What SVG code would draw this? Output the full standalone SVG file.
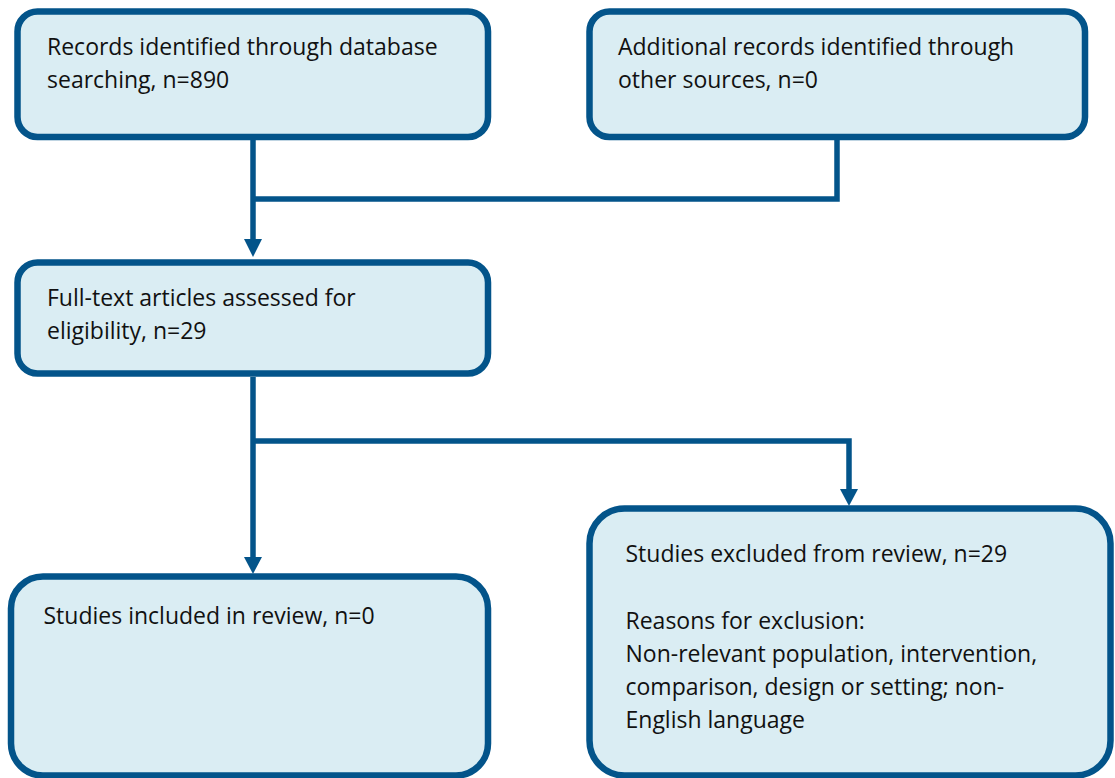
<svg xmlns="http://www.w3.org/2000/svg" width="1115" height="778" viewBox="0 0 1115 778">
<defs>
<style>
.box{fill:#DAEDF3;stroke:#03548A;stroke-width:6.5}
.con{fill:none;stroke:#03548A;stroke-width:5.5}
.head{fill:#03548A;stroke:none}
text{font-family:"Open Sans","Noto Sans",sans-serif;font-size:23px;fill:#111}
</style>
</defs>
<rect width="1115" height="778" fill="#ffffff"/>
<g id="connectors">
<path class="con" d="M253,140 V240"/>
<path class="con" d="M837,140 V199 H253"/>
<polygon class="head" points="244,239 262,239 253,257"/>
<path class="con" d="M253,377 V559"/>
<path class="con" d="M253,441 H849 V490"/>
<polygon class="head" points="244,557 262,557 253,574"/>
<polygon class="head" points="840,489 858,489 849,506"/>
</g>
<g id="records-db">
<rect class="box" x="17.5" y="11.5" width="470.5" height="125.5" rx="20"/>
<text x="47" y="55">Records identified through database</text>
<text x="47" y="87.5">searching, n=890</text>
</g>
<g id="records-other">
<rect class="box" x="589.5" y="11.5" width="495.5" height="125.5" rx="20"/>
<text x="618" y="55">Additional records identified through</text>
<text x="618" y="87.5">other sources, n=0</text>
</g>
<g id="fulltext">
<rect class="box" x="17.5" y="262.5" width="470.5" height="111" rx="20"/>
<text x="47" y="306">Full-text articles assessed for</text>
<text x="47" y="338.5">eligibility, n=29</text>
</g>
<g id="included">
<rect class="box" x="11" y="576.5" width="477" height="199" rx="32"/>
<text x="43.5" y="624">Studies included in review, n=0</text>
</g>
<g id="excluded">
<rect class="box" x="589.5" y="508.5" width="521" height="267" rx="35"/>
<text x="625.5" y="562">Studies excluded from review, n=29</text>
<text x="625.5" y="628.5">Reasons for exclusion:</text>
<text x="625.5" y="661.5">Non-relevant population, intervention,</text>
<text x="625.5" y="694.5">comparison, design or setting; non-</text>
<text x="625.5" y="727.5">English language</text>
</g>
</svg>
